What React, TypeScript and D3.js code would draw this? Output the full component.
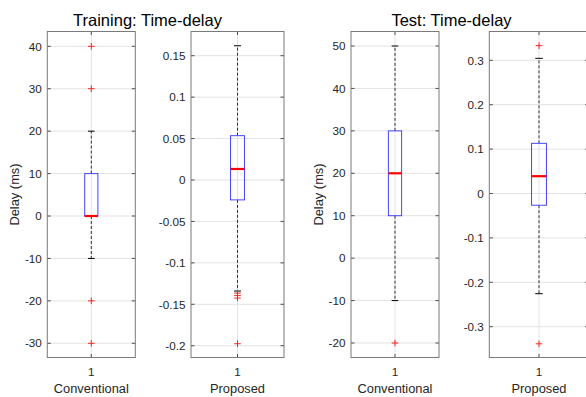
import React from "react";
import * as d3 from "d3";

const titles = ["Training: Time-delay", "Test: Time-delay"];
const titleCenters = [147.5, 451.5];
const groupNames = ["Conventional", "Proposed", "Conventional", "Proposed"];
const xTickLabels = ["1", "1", "1", "1"];
const q1 = [0, -0.024, 10, -0.0264];
const medians = [0, 0.0133, 20, 0.039];
const q3 = [10, 0.0535, 30, 0.113];
const whiskerLow = [-10, -0.134, -10, -0.2257];
const whiskerHigh = [20, 0.162, 50, 0.3045];
const outliers = [
  [40, 30, -20, -30],
  [-0.1365, -0.1395, -0.1425, -0.1976],
  [-20],
  [0.333, -0.3386],
];
const yDomains: [number, number][] = [
  [-33.35, 43.49],
  [-0.2142, 0.1792],
  [-23.42, 53.42],
  [-0.3694, 0.3649],
];
const yTicks = [
  [-30, -20, -10, 0, 10, 20, 30, 40],
  [-0.2, -0.15, -0.1, -0.05, 0, 0.05, 0.1, 0.15],
  [-20, -10, 0, 10, 20, 30, 40, 50],
  [-0.3, -0.2, -0.1, 0, 0.1, 0.2, 0.3],
];
const panelX: [number, number][] = [
  [47.3, 135.3],
  [191, 284],
  [351, 439],
  [489.3, 588.7],
];
const yLabelPanels = [0, 2];
const yLabelText = "Delay (ms)";

const W = 586;
const H = 397;
const TOP = 31.5;
const BOTTOM = 357.5;
const FONT = "'Liberation Sans', Arial, Helvetica, sans-serif";
const AX = "#262626";

function fmt(v: number) {
  const s = d3.format("~g")(+v.toFixed(4));
  return s.replace("−", "-");
}

function Panel({ i }: { i: number }) {
  const [x0, x1] = panelX[i];
  const x = d3.scaleLinear().domain([0.5, 1.5]).range([x0, x1]);
  const y = d3.scaleLinear().domain(yDomains[i]).range([BOTTOM, TOP]);
  const cx = x(1);
  const bw = x(1.075) - x(1);
  const cw = x(1.0375) - x(1);
  const tickLen = 3.5;
  return (
    <g>
      {/* grid */}
      {yTicks[i].map((t) => (
        <line key={"g" + t} x1={x0} x2={x1} y1={y(t)} y2={y(t)} stroke="#e3e3e3" strokeWidth={1} />
      ))}
      <line x1={cx} x2={cx} y1={TOP} y2={BOTTOM} stroke="#e3e3e3" strokeWidth={1} />
      {/* whiskers */}
      <line x1={cx} x2={cx} y1={y(q3[i])} y2={y(whiskerHigh[i])} stroke="#000" strokeWidth={0.8} strokeDasharray="3,2" />
      <line x1={cx} x2={cx} y1={y(q1[i])} y2={y(whiskerLow[i])} stroke="#000" strokeWidth={0.8} strokeDasharray="3,2" />
      <line x1={cx - cw} x2={cx + cw} y1={y(whiskerHigh[i])} y2={y(whiskerHigh[i])} stroke="#000" strokeWidth={1} />
      <line x1={cx - cw} x2={cx + cw} y1={y(whiskerLow[i])} y2={y(whiskerLow[i])} stroke="#000" strokeWidth={1} />
      {/* box */}
      <rect x={cx - bw} y={y(q3[i])} width={2 * bw} height={y(q1[i]) - y(q3[i])} fill="none" stroke="#4646ff" strokeWidth={1} />
      <line x1={cx - bw} x2={cx + bw} y1={y(medians[i])} y2={y(medians[i])} stroke="#ff0000" strokeWidth={2.2} />
      {/* outliers */}
      {outliers[i].map((o, k) => (
        <g key={"o" + k} stroke="#ff2020" strokeWidth={1}>
          <line x1={cx - 3.3} x2={cx + 3.3} y1={y(o)} y2={y(o)} />
          <line x1={cx} x2={cx} y1={y(o) - 3.3} y2={y(o) + 3.3} />
        </g>
      ))}
      {/* ticks */}
      {yTicks[i].map((t) => (
        <g key={"t" + t}>
          <line x1={x0} x2={x0 + tickLen} y1={y(t)} y2={y(t)} stroke={AX} strokeWidth={0.8} />
          <line x1={x1} x2={x1 - tickLen} y1={y(t)} y2={y(t)} stroke={AX} strokeWidth={0.8} />
          <text x={x0 - 5.5} y={y(t)} dy="0.36em" textAnchor="end" fontSize={11.7} fill={AX} fontFamily={FONT}>
            {fmt(t)}
          </text>
        </g>
      ))}
      <line x1={cx} x2={cx} y1={BOTTOM} y2={BOTTOM - tickLen} stroke={AX} strokeWidth={0.8} />
      <line x1={cx} x2={cx} y1={TOP} y2={TOP + tickLen} stroke={AX} strokeWidth={0.8} />
      {/* frame */}
      <rect x={x0} y={TOP} width={x1 - x0} height={BOTTOM - TOP} fill="none" stroke="#7a7a7a" strokeWidth={1} />
      <text x={cx} y={375.5} textAnchor="middle" fontSize={11.7} fill={AX} fontFamily={FONT}>
        {xTickLabels[i]}
      </text>
      <text x={cx} y={393} textAnchor="middle" fontSize={12.85} fill={AX} fontFamily={FONT}>
        {groupNames[i]}
      </text>
      {yLabelPanels.includes(i) && (
        <text
          transform={`translate(${x0 - 28.3},${(TOP + BOTTOM) / 2}) rotate(-90)`}
          textAnchor="middle"
          fontSize={12.85}
          fill={AX}
          fontFamily={FONT}
        >
          {yLabelText}
        </text>
      )}
    </g>
  );
}

export default function App() {
  return (
    <svg
      width={W}
      height={H}
      style={{ position: "absolute", left: 0, top: 0, background: "#fff" }}
    >
      <rect width={W} height={H} fill="#fff" />
      {groupNames.map((_, i) => (
        <Panel key={i} i={i} />
      ))}
      {titles.map((t, k) => (
        <text key={t} x={titleCenters[k]} y={26} textAnchor="middle" fontSize={16.5} fill="#000" fontFamily={FONT}>
          {t}
        </text>
      ))}
    </svg>
  );
}
